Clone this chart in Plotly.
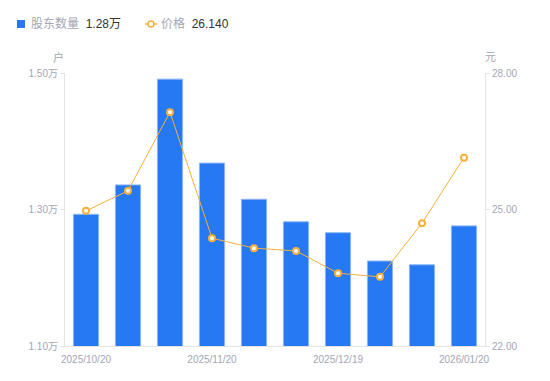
import plotly.graph_objects as go

dates = ["2025/10/20", "2025/10/31", "2025/11/10", "2025/11/20", "2025/11/28",
         "2025/12/10", "2025/12/19", "2025/12/31", "2026/01/09", "2026/01/20"]
holders = [1.293, 1.336, 1.491, 1.368, 1.315, 1.282, 1.266, 1.2245, 1.219, 1.276]
prices = [24.97, 25.41, 27.14, 24.37, 24.15, 24.09, 23.60, 23.52, 24.70, 26.14]
tick_dates = ["2025/10/20", "2025/11/20", "2025/12/19", "2026/01/20"]
left_ticks = [1.10, 1.30, 1.50]
right_ticks = [22, 25, 28]

FONT = "Liberation Sans, Noto Sans CJK SC, sans-serif"
BLUE = "#2679F2"
ORANGE = "#F7B03C"
GRAY = "#A3A6B4"
DARK = "#333333"

L, R, T, B = 65, 65, 73, 35
W, H = 550, 381
PW, PH = W - L - R, H - T - B


def px(x):
    return (x - L) / PW


def py(y):
    return (H - B - y) / PH


fig = go.Figure()
fig.add_trace(go.Bar(
    x=dates, y=holders, name="股东数量", yaxis="y",
    marker=dict(color=BLUE, line=dict(color="#8DB6F7", width=1)),
))
fig.add_trace(go.Scatter(
    x=dates, y=prices, name="价格", yaxis="y2", mode="lines+markers",
    line=dict(color=ORANGE, width=1),
    marker=dict(size=6, color="white", line=dict(color=ORANGE, width=2)),
))

fig.update_layout(
    width=W, height=H,
    margin=dict(l=L, r=R, t=T, b=B),
    paper_bgcolor="white", plot_bgcolor="white",
    font=dict(family=FONT, size=10, color=GRAY),
    showlegend=False,
    bargap=0.4,
    xaxis=dict(
        type="category", tickmode="array", tickvals=tick_dates, ticktext=tick_dates,
        showline=True, linecolor="#E3E3E3", linewidth=1, showgrid=False,
        ticks="", tickfont=dict(size=10, color=GRAY), range=[-0.5, 9.5],
        ticklabelstandoff=4,
    ),
    yaxis=dict(
        range=[1.10, 1.50], tickmode="array", tickvals=left_ticks,
        ticktext=[f"{v:.2f}万" for v in left_ticks],
        showline=True, linecolor="#E3E3E3", linewidth=1, showgrid=False,
        ticks="outside", ticklen=4, tickcolor="#E3E3E3", zeroline=False,
        tickfont=dict(size=10, color=GRAY),
    ),
    yaxis2=dict(
        range=[22, 28], tickmode="array", tickvals=right_ticks,
        ticktext=[f"{v:.2f}" for v in right_ticks],
        overlaying="y", side="right",
        showline=True, linecolor="#E3E3E3", linewidth=1, showgrid=False,
        ticks="outside", ticklen=4, tickcolor="#E3E3E3", zeroline=False,
        tickfont=dict(size=10, color=GRAY),
    ),
)

# axis unit titles
fig.add_annotation(xref="paper", yref="paper", x=px(58), y=py(57),
                   xanchor="center", yanchor="middle",
                   text="户", showarrow=False, font=dict(size=11, color=GRAY, family=FONT))
fig.add_annotation(xref="paper", yref="paper", x=px(490), y=py(57),
                   xanchor="center", yanchor="middle",
                   text="元", showarrow=False, font=dict(size=11, color=GRAY, family=FONT))

# custom legend
LY = py(24)
fig.add_shape(type="rect", xref="paper", yref="paper",
              x0=px(17), x1=px(25), y0=py(28), y1=py(20),
              fillcolor=BLUE, line=dict(width=0))
fig.add_annotation(xref="paper", yref="paper", x=px(29), y=LY, xanchor="left", yanchor="middle",
                   text=f"股东数量  <span style='color:{DARK}'>{holders[-1]:.2f}万</span>",
                   showarrow=False, font=dict(size=12, color=GRAY, family=FONT))
fig.add_shape(type="line", xref="paper", yref="paper",
              x0=px(145), x1=px(157), y0=LY, y1=LY,
              line=dict(color=ORANGE, width=1.5))
fig.add_shape(type="circle", xref="paper", yref="paper",
              xsizemode="pixel", ysizemode="pixel", xanchor=px(151), yanchor=LY,
              x0=-3, x1=3, y0=-3, y1=3,
              fillcolor="white", line=dict(color=ORANGE, width=1.5))
fig.add_annotation(xref="paper", yref="paper", x=px(159), y=LY, xanchor="left", yanchor="middle",
                   text=f"价格  <span style='color:{DARK}'>{prices[-1]:.3f}</span>",
                   showarrow=False, font=dict(size=12, color=GRAY, family=FONT))

fig.write_html("out.html", config={"displayModeBar": False},
               post_script="document.body.style.margin='0';")
